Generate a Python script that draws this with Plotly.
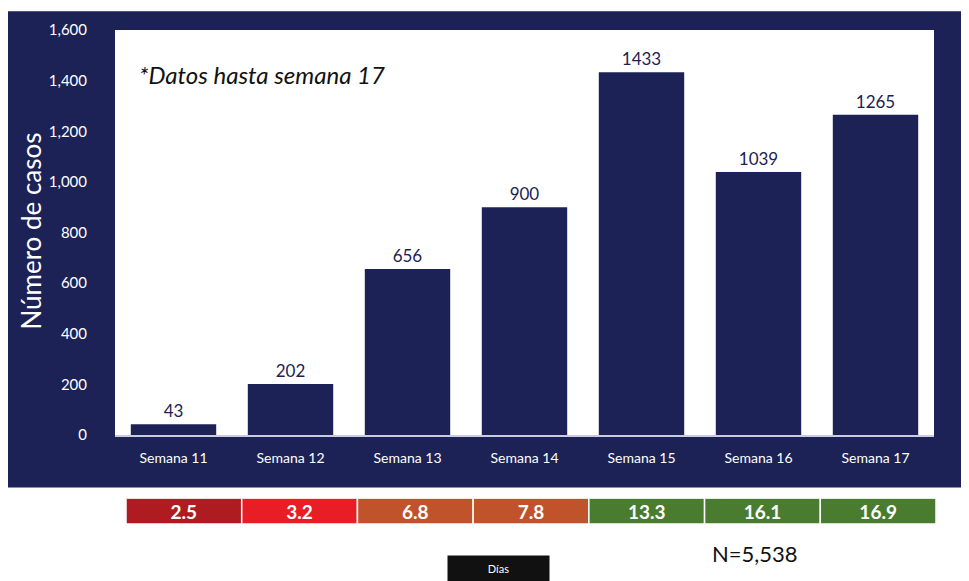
import plotly.graph_objects as go

semanas = ["Semana 11", "Semana 12", "Semana 13", "Semana 14", "Semana 15", "Semana 16", "Semana 17"]
casos = [43, 202, 656, 900, 1433, 1039, 1265]
dias = [2.5, 3.2, 6.8, 7.8, 13.3, 16.1, 16.9]
dias_colores = ["#ae1b20", "#e81e24", "#c0532a", "#c0532a", "#4a7c2f", "#4a7c2f", "#4a7c2f"]
y_ticks = [0, 200, 400, 600, 800, 1000, 1200, 1400, 1600]

NAVY = "#1c2255"
FONT = "Lato"

# page is offset by the browser's 8px body margin
OFF = 8
W, H = 969, 581
ML = 115 - OFF
MT = 24 - OFF
MR = W - (936 - OFF)
MB = H - (524 - OFF)
pw, ph = W - ML - MR, H - MT - MB


def px_x(p):
    return (p - OFF - ML) / pw


def px_y(p):
    return (H - MB - (p - OFF)) / ph


fig = go.Figure()

fig.add_trace(go.Bar(
    x=semanas, y=casos, width=0.73,
    marker=dict(color=NAVY, line=dict(width=0)),
    text=[str(v) for v in casos], textposition="outside",
    textfont=dict(color=NAVY, size=17, family=FONT),
    cliponaxis=False, xaxis="x", yaxis="y", showlegend=False,
))

fig.add_trace(go.Bar(
    orientation="h", y=[0] * len(dias), x=[1] * len(dias), base=list(range(len(dias))),
    width=1,
    marker=dict(color=dias_colores, line=dict(color="white", width=1.5)),
    text=[f"{d:.1f}" for d in dias], textposition="inside", insidetextanchor="middle",
    constraintext="none",
    textfont=dict(color="white", size=19, family=FONT, weight="bold"),
    xaxis="x2", yaxis="y2", showlegend=False,
))

main_right = px_x(934)
main_bottom = px_y(434)

fig.update_layout(
    width=W, height=H,
    margin=dict(l=ML, r=MR, t=MT, b=MB),
    paper_bgcolor="white", plot_bgcolor="rgba(0,0,0,0)",
    font=dict(family=FONT),
    xaxis=dict(domain=[0, main_right], anchor="y", type="category",
               showgrid=False, zeroline=False, showline=True, linecolor="#c9cce0", linewidth=1.5,
               ticks="outside", ticklen=0, ticklabelstandoff=9,
               tickfont=dict(color="white", size=14, family=FONT)),
    yaxis=dict(domain=[main_bottom, 1], anchor="x", range=[0, 1600],
               tickvals=y_ticks, tickformat=",", showgrid=False, zeroline=False,
               ticks="outside", ticklen=0, ticklabelstandoff=24,
               tickfont=dict(color="white", size=15, family=FONT)),
    xaxis2=dict(domain=[px_x(126), 1], anchor="y2", range=[0, 7], visible=False, fixedrange=True),
    yaxis2=dict(domain=[0, px_y(498)], anchor="x2", range=[-0.5, 0.5], visible=False, fixedrange=True),
    shapes=[
        dict(type="rect", xref="paper", yref="paper", layer="below",
             x0=px_x(8), x1=px_x(966), y0=px_y(487), y1=px_y(5),
             fillcolor=NAVY, line=dict(width=0)),
        dict(type="rect", xref="paper", yref="paper", layer="below",
             x0=0, x1=main_right, y0=main_bottom, y1=1,
             fillcolor="white", line=dict(width=0)),
    ],
    annotations=[
        dict(text="Número de casos", textangle=-90, xref="paper", yref="paper",
             x=px_x(31), y=px_y(228), xanchor="center", yanchor="middle", showarrow=False,
             font=dict(color="white", size=26, family=FONT)),
        dict(text="*Datos hasta semana 17", xref="paper", yref="paper",
             x=px_x(137), y=px_y(69), xanchor="left", yanchor="middle", showarrow=False,
             font=dict(color="#111111", size=24, family=FONT, style="italic")),
        dict(text="N=5,538", xref="paper", yref="paper",
             x=px_x(755), y=px_y(554), xanchor="center", yanchor="middle", showarrow=False,
             font=dict(color="#111111", size=22, family=FONT)),
        dict(text="Días", xref="paper", yref="paper",
             x=px_x(498.5), y=px_y(569.5), xanchor="center", yanchor="middle", showarrow=False,
             width=99, height=23, bgcolor="#111111",
             font=dict(color="white", size=11, family=FONT)),
    ],
)

fig.write_html("out.html")
